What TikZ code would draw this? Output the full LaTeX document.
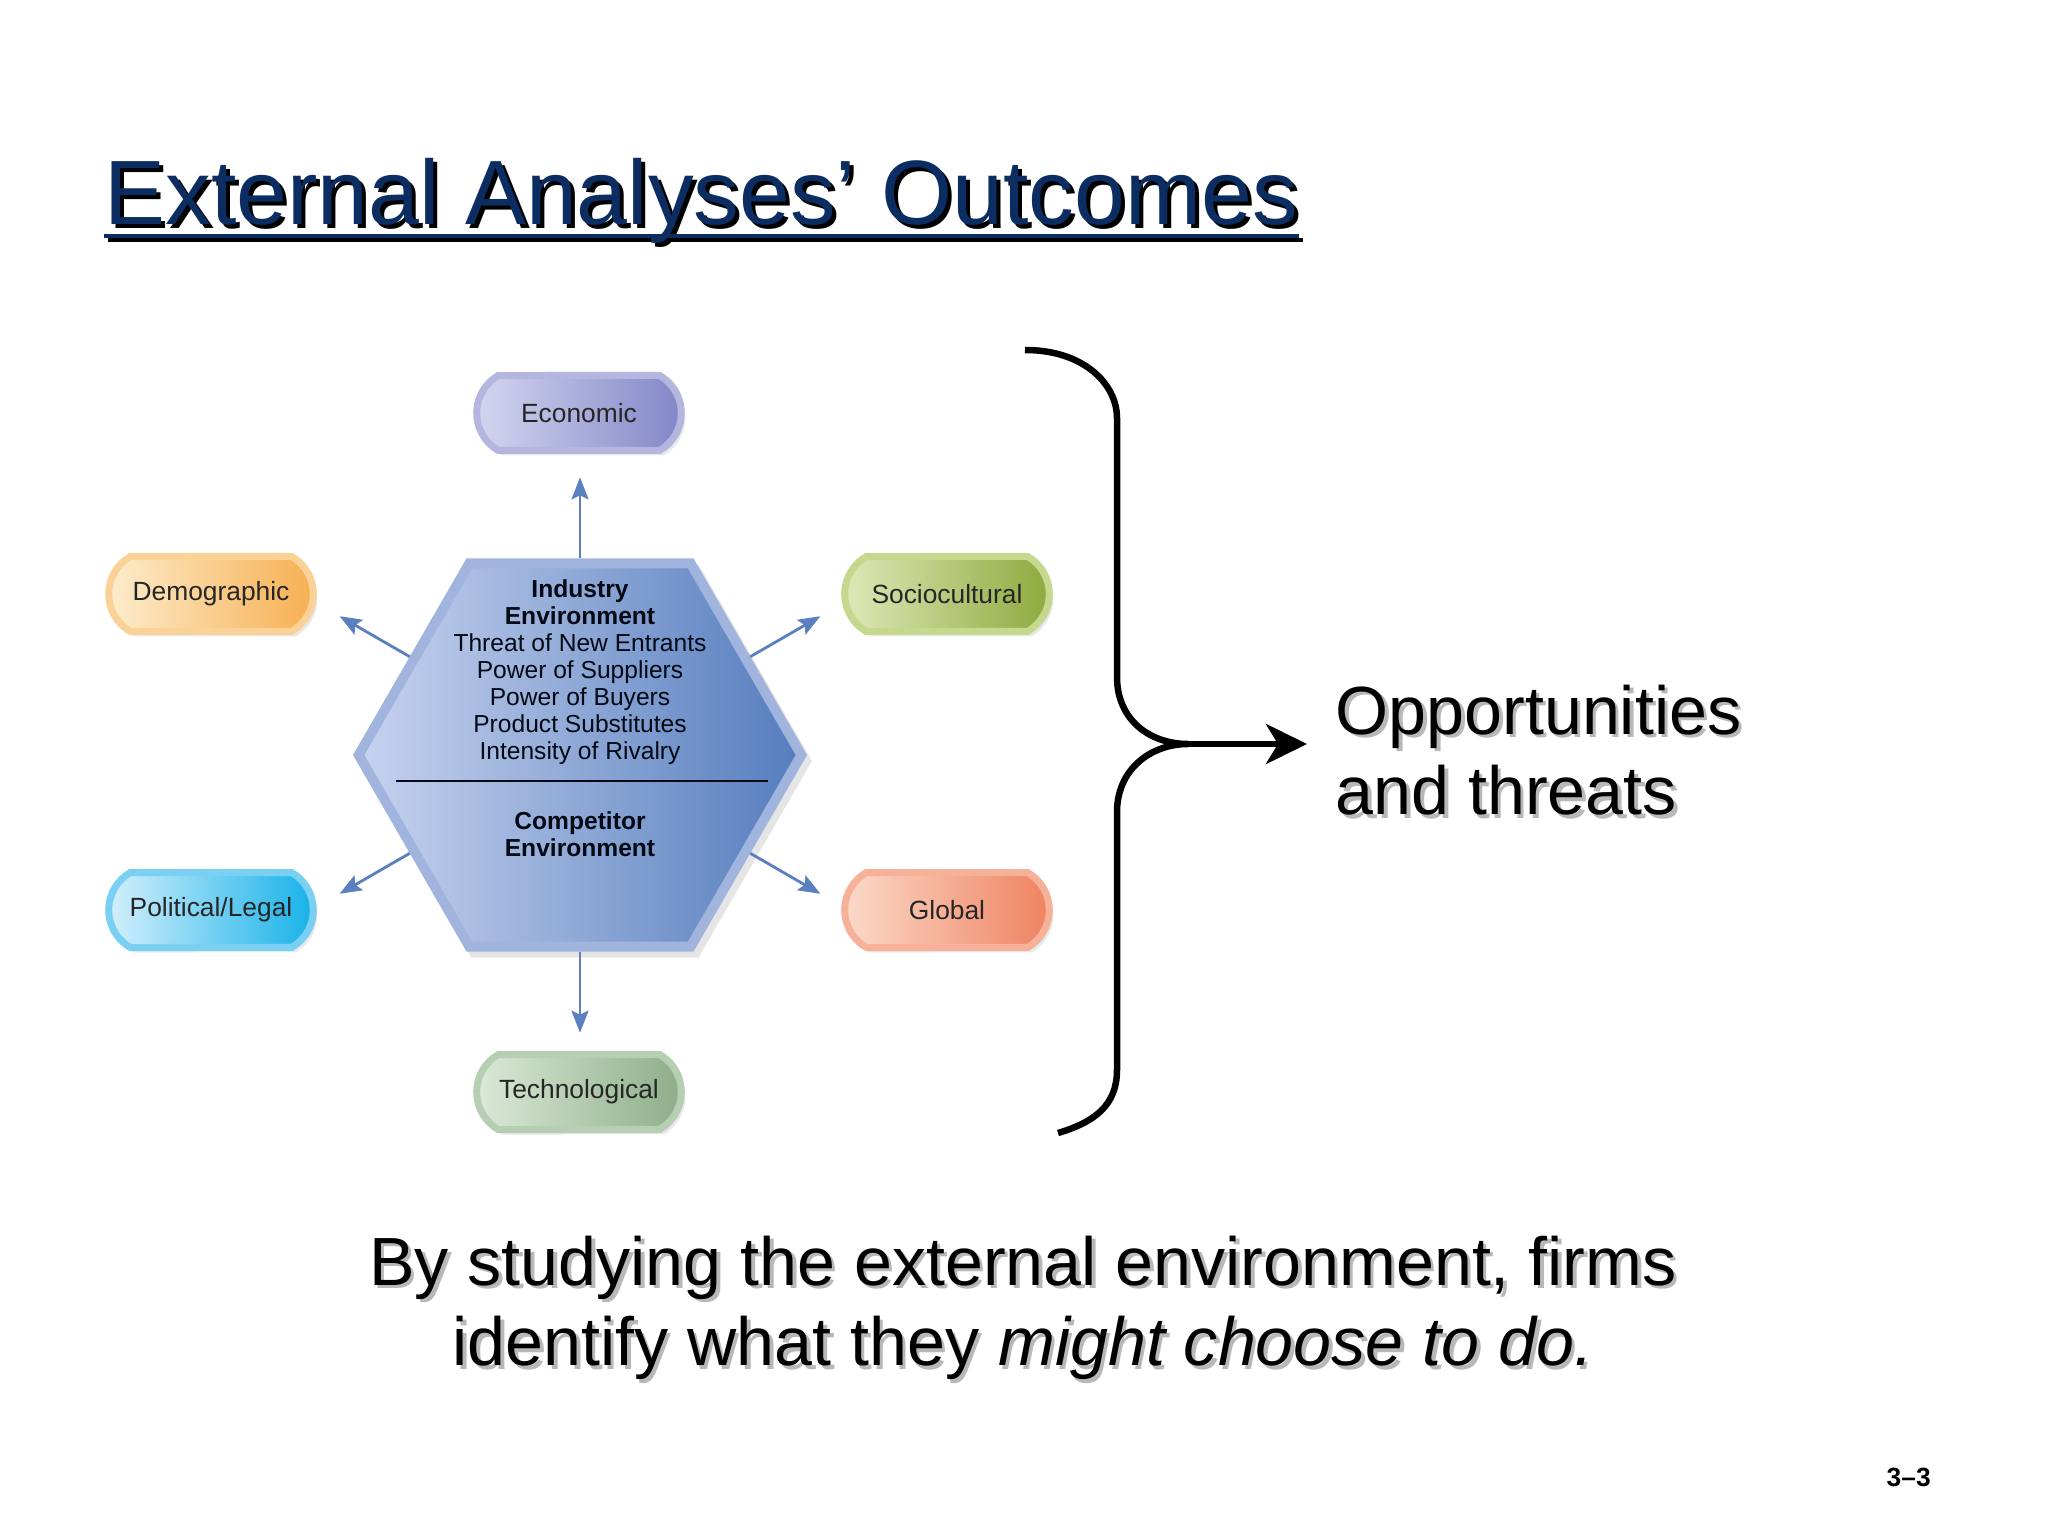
\documentclass[tikz,border=0pt]{standalone}
\usepackage{fontspec}
\setmainfont{Liberation Sans}
\usepackage{tikz}
\usetikzlibrary{shapes.geometric,shapes.misc,shadows,arrows.meta,calc}

\definecolor{navy}{RGB}{12,45,98}
\definecolor{flowblue}{RGB}{90,128,192}
\definecolor{hexrim}{RGB}{160,180,222}
\definecolor{hexL}{RGB}{198,210,238}
\definecolor{hexR}{RGB}{86,126,190}
\definecolor{econL}{RGB}{214,216,240}
\definecolor{econR}{RGB}{128,132,198}
\definecolor{econrim}{RGB}{180,182,224}
\definecolor{demoL}{RGB}{253,238,208}
\definecolor{demoR}{RGB}{246,174,78}
\definecolor{demorim}{RGB}{250,210,152}
\definecolor{socL}{RGB}{224,234,188}
\definecolor{socR}{RGB}{140,168,58}
\definecolor{socrim}{RGB}{198,216,142}
\definecolor{polL}{RGB}{216,241,252}
\definecolor{polR}{RGB}{18,176,232}
\definecolor{polrim}{RGB}{122,208,242}
\definecolor{globL}{RGB}{252,220,204}
\definecolor{globR}{RGB}{238,128,94}
\definecolor{globrim}{RGB}{246,178,152}
\definecolor{techL}{RGB}{222,235,218}
\definecolor{techR}{RGB}{138,172,134}
\definecolor{techrim}{RGB}{182,206,178}

\begin{document}
\begin{tikzpicture}[
    pill/.style={rounded rectangle, rounded rectangle arc length=120,
        minimum width=2.28cm, minimum height=0.75cm, line width=0.07cm,
        font=\fontsize{7.5}{9}\selectfont, text=black!85,
        drop shadow={opacity=0.18, shadow xshift=0.04cm, shadow yshift=-0.05cm}},
    hexagon/.style={regular polygon, regular polygon sides=6, inner sep=0pt, outer sep=0pt},
    hextext/.style={align=center, inner sep=0pt, font=\fontsize{7}{7.7}\selectfont, text=black!80!navy},
    flow/.style={draw=flowblue, line width=0.8pt, -{Stealth[length=0.22cm, width=0.17cm, inset=0.04cm]}},
    bigtext/.style={inner sep=0pt, font=\fontsize{19.4}{23}\selectfont},
    shadowtext/.style={text=black!28},
    ]
    \useasboundingbox[fill=white] (0,0) rectangle (20.48,-15.36);

    % title
    \node[anchor=base west, inner sep=0pt, font=\fontsize{26}{30}\selectfont, text=black] (titleshadow) at (1.08,-2.29) {External Analyses’ Outcomes};
    \draw[black, line width=0.045cm] ($(titleshadow.base west)+(0,-0.11)$) -- ($(titleshadow.base east)+(0,-0.11)$);
    \node[anchor=base west, inner sep=0pt, font=\fontsize{26}{30}\selectfont, text=navy] (title) at (1.04,-2.25) {External Analyses’ Outcomes};
    \draw[navy, line width=0.045cm] ($(title.base west)+(0,-0.11)$) -- ($(title.base east)+(0,-0.11)$);

    % hexagon
    \node[hexagon, minimum size=4.54cm, fill=hexrim,
        drop shadow={opacity=0.2, shadow xshift=0.05cm, shadow yshift=-0.06cm}] (hex) at (5.80,-7.55) {};
    \node[hexagon, minimum size=4.31cm, left color=hexL, right color=hexR] (hexin) at (hex.center) {};
    \draw[black!80!navy, line width=0.02cm] ($(hex.center)+(-1.84,-0.26)$) -- ($(hex.center)+(1.88,-0.26)$);
    \node[hextext, anchor=north] (industry) at (5.80,-5.79) {\textbf{Industry}\\\textbf{Environment}\\Threat of New Entrants\\Power of Suppliers\\Power of Buyers\\Product Substitutes\\Intensity of Rivalry};
    \node[hextext, anchor=north] (competitor) at (5.80,-8.11) {\textbf{Competitor}\\\textbf{Environment}};

    % forces
    \node[pill, draw=econrim, left color=econL, right color=econR] (econ) at (5.79,-4.13) {Economic};
    \node[pill, draw=demorim, left color=demoL, right color=demoR] (demo) at (2.11,-5.94) {Demographic};
    \node[pill, draw=socrim, left color=socL, right color=socR] (soc) at (9.47,-5.94) {Sociocultural};
    \node[pill, draw=polrim, left color=polL, right color=polR] (pol) at (2.11,-9.10) {Political/Legal};
    \node[pill, draw=globrim, left color=globL, right color=globR] (glob) at (9.47,-9.10) {Global};
    \node[pill, draw=techrim, left color=techL, right color=techR] (tech) at (5.79,-10.92) {Technological};

    \foreach \ang/\nm in {90/econ, 30/soc, 330/glob, 270/tech, 210/pol, 150/demo}
        \draw[flow] (hex.\ang) -- ++(\ang:0.81) coordinate (\nm tip);

    % brace
    \coordinate (bracetip) at (11.88,-7.44);
    \draw[line width=0.065cm] (10.25,-3.50) .. controls (10.85,-3.50) and (11.17,-3.85) .. (11.17,-4.18)
        -- (11.17,-6.77) .. controls (11.17,-7.20) and (11.50,-7.44) .. (bracetip)
        .. controls (11.50,-7.44) and (11.17,-7.70) .. (11.17,-8.12)
        -- (11.17,-10.70) .. controls (11.17,-11.05) and (10.95,-11.22) .. (10.58,-11.33);

    \node[bigtext, shadowtext, anchor=north west, align=left] (oppshadow) at (13.385,-6.875) {Opportunities\\and threats};
    \node[bigtext, anchor=north west, align=left] (opp) at (13.35,-6.84) {Opportunities\\and threats};
    \draw[line width=0.065cm, -{Stealth[length=0.41cm, width=0.40cm, inset=0.12cm]}, shorten >=0.28cm] (bracetip) -- (bracetip -| opp.west);

    % bottom line
    \node[bigtext, shadowtext, align=center, anchor=north] (studyshadow) at (10.265,-12.385) {By studying the external environment, firms\\identify what they \textit{might choose to do.}};
    \node[bigtext, align=center, anchor=north] (study) at (10.23,-12.35) {By studying the external environment, firms\\identify what they \textit{might choose to do.}};

    \node[anchor=base west, inner sep=0pt, font=\fontsize{7.5}{9}\selectfont\bfseries] (slideno) at (18.86,-14.86) {3–3};
\end{tikzpicture}
\end{document}
